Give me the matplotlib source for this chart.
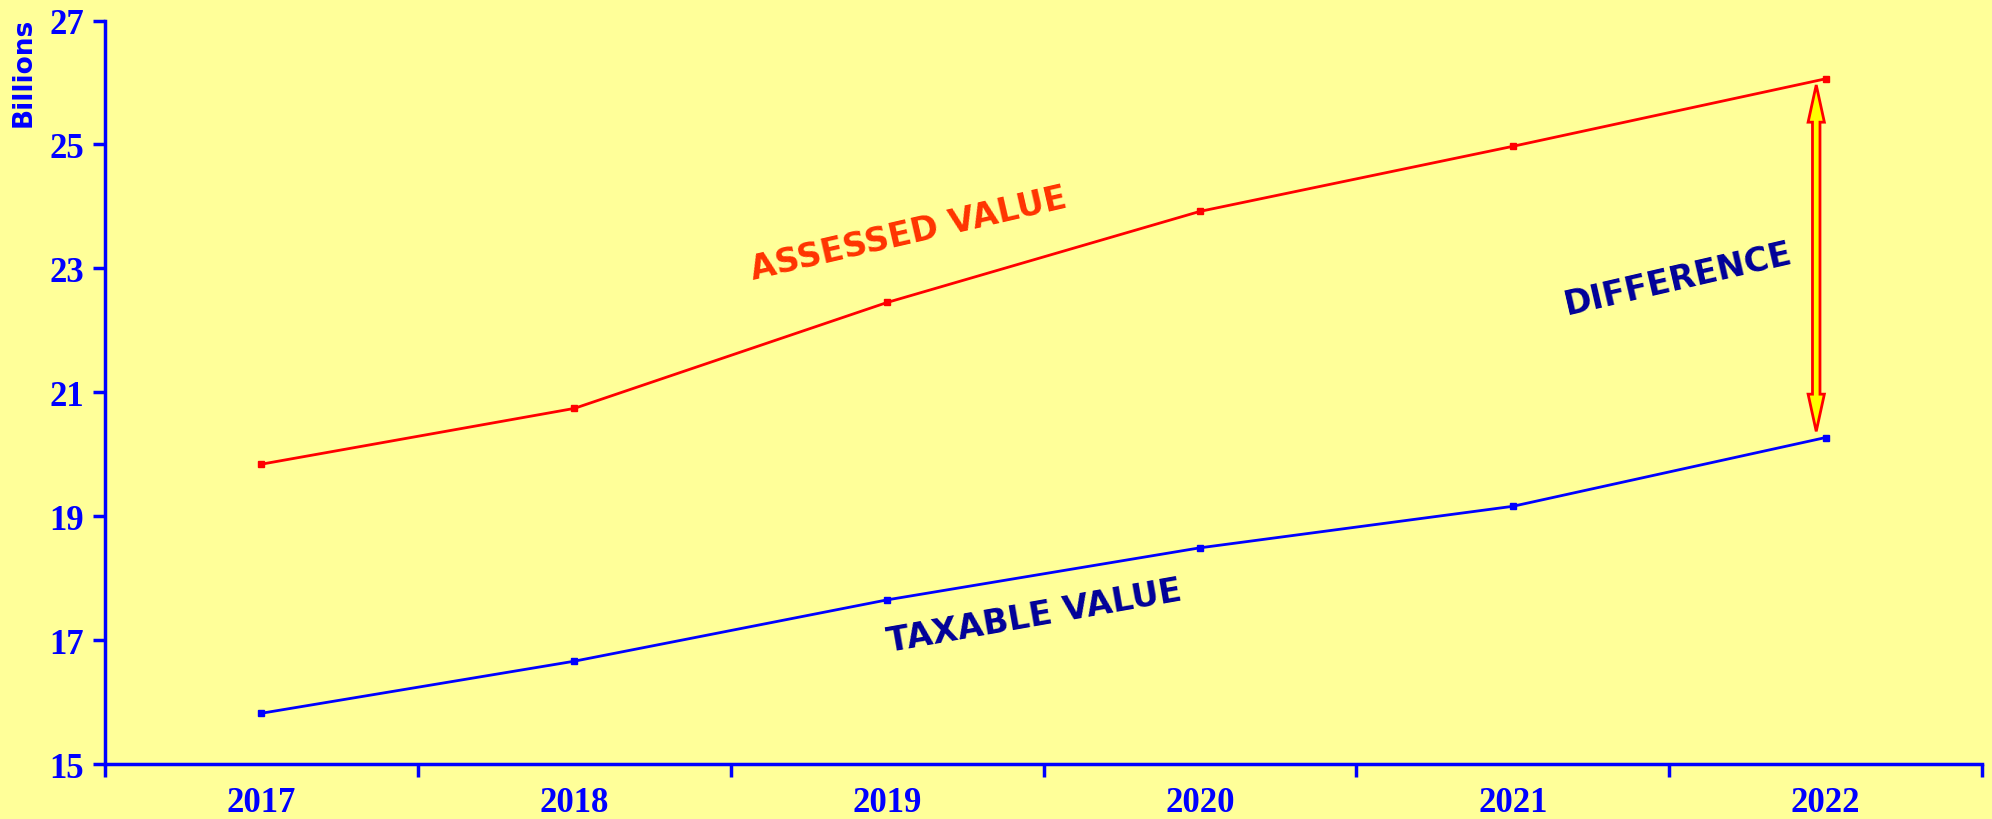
import matplotlib
matplotlib.use('Agg')
import matplotlib.pyplot as plt
from matplotlib.patches import Polygon

# data (billions)
years    = ["2017", "2018", "2019", "2020", "2021", "2022"]
assessed = [19.84, 20.74, 22.45, 23.92, 24.97, 26.06]
taxable  = [15.82, 16.66, 17.65, 18.49, 19.16, 20.27]
yticks   = [15, 17, 19, 21, 23, 25, 27]

BG = "#FFFF99"
BLUE = "#0000FF"

fig = plt.figure(figsize=(19.92, 8.2), dpi=100, facecolor=BG)
ax = fig.add_axes([0.0527, 0.067, 0.9423, 0.9067])
ax.set_facecolor(BG)

xpos = [i + 0.5 for i in range(len(years))]
ax.plot(xpos, assessed, color="#FF0000", linewidth=2.0, marker="s", markersize=5)
ax.plot(xpos, taxable, color=BLUE, linewidth=2.0, marker="s", markersize=5)

ax.set_xlim(0, len(years))
ax.set_ylim(15, 27)

# spines
for s in ["top", "right"]:
    ax.spines[s].set_visible(False)
for s in ["left", "bottom"]:
    ax.spines[s].set_color(BLUE)
    ax.spines[s].set_linewidth(2.5)

# ticks
ax.set_yticks(yticks)
ax.set_yticklabels([str(v) for v in yticks])
ax.set_xticks(range(len(years) + 1))
ax.set_xticklabels([])
ax.set_xticks(xpos, minor=True)
ax.set_xticklabels(years, minor=True)
ax.tick_params(axis="x", which="major", length=9, width=2.5, color=BLUE)
ax.tick_params(axis="x", which="minor", length=0, pad=16)
ax.tick_params(axis="y", length=9, width=2.5, color=BLUE, pad=6)
for lab in ax.get_yticklabels() + ax.get_xticklabels(minor=True):
    lab.set_fontfamily("Liberation Serif")
    lab.set_fontweight("bold")
    lab.set_fontsize(25)
    lab.set_color(BLUE)

fig.text(0.012, 0.978, "Billions", rotation=90, ha="center", va="top",
         fontsize=19, fontweight="bold", color=BLUE, family="DejaVu Sans")

# annotations
ax.text(2.57, 23.57, "ASSESSED VALUE", rotation=13, ha="center", va="center",
        fontsize=24, fontweight="bold", color="#FF3300", family="DejaVu Sans")
ax.text(2.97, 17.4, "TAXABLE VALUE", rotation=10, ha="center", va="center",
        fontsize=24, fontweight="bold", color="#000099", family="DejaVu Sans")
ax.text(5.03, 22.83, "DIFFERENCE", rotation=13, ha="center", va="center",
        fontsize=24, fontweight="bold", color="#000099", family="DejaVu Sans")

# double-headed difference arrow between the 2022 points
ax_x = xpos[-1] - 0.03
top = assessed[-1] - 0.1
bot = taxable[-1] + 0.1
sw, hw, hl = 0.012, 0.026, 0.6
pts = [
    (ax_x, top), (ax_x + hw, top - hl), (ax_x + sw, top - hl),
    (ax_x + sw, bot + hl), (ax_x + hw, bot + hl), (ax_x, bot),
    (ax_x - hw, bot + hl), (ax_x - sw, bot + hl), (ax_x - sw, top - hl),
    (ax_x - hw, top - hl),
]
ax.add_patch(Polygon(pts, closed=True, facecolor="#FFFF00", edgecolor="#FF0000",
                     linewidth=2.0, zorder=3))

fig.savefig("out.png", dpi=100, facecolor=BG)
